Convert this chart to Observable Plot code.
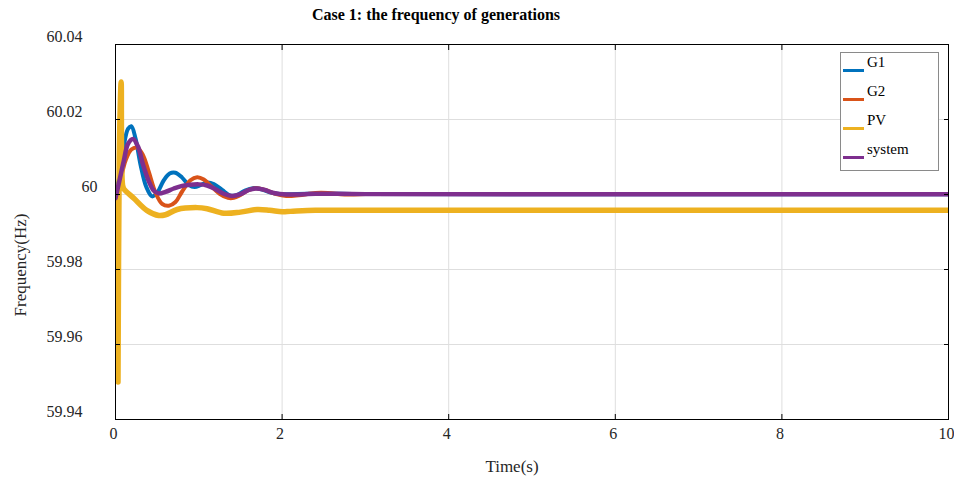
<!DOCTYPE html>
<html><head><meta charset="utf-8">
<script src="https://cdn.jsdelivr.net/npm/d3@7"></script>
<script src="https://cdn.jsdelivr.net/npm/@observablehq/plot@0.6"></script>
<style>
body{margin:0;background:#fff;}
#wrap{position:relative;width:954px;height:479px;font-family:"Liberation Serif","DejaVu Serif",serif;color:#262626;}
#title{position:absolute;left:0;top:6px;width:872px;text-align:center;font-weight:bold;font-size:16px;color:#000;}
#legend{position:absolute;left:840px;top:52px;width:99px;height:119px;border:1px solid #8a8a8a;background:#fff;box-sizing:border-box;}
.row{position:absolute;left:2px;height:20px;}
.sw{position:absolute;left:0;width:21px;height:3px;}
.lt{position:absolute;left:24px;font-size:15px;color:#000;white-space:nowrap;}
</style></head>
<body>
<div id="wrap"><div id="title">Case 1: the frequency of generations</div></div>
<script>
const seriesNames = ["G1", "G2", "PV", "system"];
const seriesColors = ["#0072BD", "#D95319", "#EDB120", "#7E2F8E"];
const seriesWidths = [4, 4, 5.5, 4.5];

const g1T = [0, 0.05, 0.1, 0.15, 0.19, 0.24, 0.3, 0.37, 0.44, 0.5, 0.58, 0.65, 0.72, 0.8, 0.88, 0.95, 1.02, 1.1, 1.18, 1.28, 1.38, 1.45, 1.55, 1.65, 1.75, 1.85, 2.0, 2.3, 2.6, 3.0, 10];
const g1F = [60.0005, 60.005, 60.013, 60.0175, 60.0182, 60.015, 60.008, 60.002, 59.9995, 60.0005, 60.0038, 60.0056, 60.0058, 60.0045, 60.0026, 60.002, 60.0025, 60.0032, 60.0028, 60.0012, 59.9997, 59.9998, 60.001, 60.0017, 60.0014, 60.0006, 60.0001, 60.0002, 60.0002, 60.0001, 60.0001];

const g2T = [0, 0.06, 0.12, 0.19, 0.26, 0.33, 0.4, 0.48, 0.56, 0.64, 0.72, 0.8, 0.9, 0.98, 1.06, 1.15, 1.25, 1.35, 1.42, 1.5, 1.6, 1.7, 1.8, 1.92, 2.05, 2.2, 2.4, 2.55, 2.75, 3.0, 10];
const g2F = [60.0, 60.004, 60.009, 60.012, 60.0125, 60.0105, 60.006, 60.0005, 59.9975, 59.997, 59.998, 60.0008, 60.0038, 60.0046, 60.004, 60.0022, 60.0002, 59.9991, 59.9991, 59.9999, 60.0012, 60.0017, 60.0012, 60.0002, 59.9996, 59.9998, 60.0004, 60.0004, 60.0, 60.0001, 60.0001];

const pvT = [0, 0.02, 0.03, 0.045, 0.068, 0.085, 0.1, 0.22, 0.38, 0.52, 0.6, 0.74, 0.98, 1.1, 1.3, 1.5, 1.7, 1.85, 2.0, 2.1, 2.4, 3.0, 10];
const pvF = [60.0, 59.998, 59.95, 60.01, 60.03, 60.0025, 60.0015, 59.999, 59.9957, 59.9944, 59.9946, 59.996, 59.9965, 59.9962, 59.995, 59.9953, 59.996, 59.9958, 59.9954, 59.9955, 59.9958, 59.9958, 59.9958];

const sysT = [0, 0.05, 0.1, 0.15, 0.21, 0.27, 0.33, 0.4, 0.46, 0.52, 0.6, 0.7, 0.8, 0.9, 1.0, 1.1, 1.2, 1.3, 1.4, 1.5, 1.6, 1.68, 1.78, 1.9, 2.05, 2.4, 2.6, 3.0, 10];
const sysF = [59.999, 60.004, 60.009, 60.0135, 60.0148, 60.0128, 60.008, 60.0035, 60.001, 60.0003, 60.0007, 60.0016, 60.0023, 60.0026, 60.0027, 60.0024, 60.0014, 60.0002, 59.9996, 60.0001, 60.0012, 60.0016, 60.0013, 60.0004, 60.0, 60.0002, 60.0002, 60.0001, 60.0001];

const yTickLabels = [59.94, 59.96, 59.98, 60.02, 60.04];
const yTickZero = [60];
const yTicks = [59.94, 59.96, 59.98, 60, 60.02, 60.04];
const xTicks = [0, 2, 4, 6, 8, 10];

const seriesT = [g1T, g2T, pvT, sysT];
const seriesF = [g1F, g2F, pvF, sysF];
const rows = seriesNames.map((name, i) => seriesT[i].map((t, j) => ({t, f: seriesF[i][j]})));

const grid = "#dedede";
const chart = Plot.plot({
  width: 954, height: 479,
  marginLeft: 115, marginRight: 6, marginTop: 44, marginBottom: 60,
  style: {fontSize: "16px", color: "#262626", background: "#fff"},
  x: {domain: [0, 10]},
  y: {domain: [59.94, 60.04]},
  marks: [
    Plot.gridY(yTicks, {stroke: grid, strokeOpacity: 1}),
    Plot.gridX(xTicks, {stroke: grid, strokeOpacity: 1}),
    ...rows.map((r, i) => Plot.line(r, {x: "t", y: "f", stroke: seriesColors[i], strokeWidth: seriesWidths[i], curve: "catmull-rom", clip: true})),
    Plot.frame({stroke: "#000", strokeWidth: 1}),
    Plot.axisY(yTickLabels, {anchor: "left", tickSize: 0, tickPadding: 33, dy: -8, fontSize: 16, tickFormat: d => d.toFixed(2), label: null}),
    Plot.axisY(yTickZero, {anchor: "left", tickSize: 0, tickPadding: 18, dy: -8, fontSize: 16, tickFormat: d => String(d), label: null}),
    Plot.axisY(yTicks, {anchor: "left", tickSize: -5, tickFormat: () => "", label: null, stroke: "#000"}),
    Plot.axisY(yTicks, {anchor: "right", tickSize: -5, tickFormat: () => "", label: null, stroke: "#000"}),
    Plot.axisX(xTicks, {anchor: "bottom", tickSize: 0, tickPadding: 8, fontSize: 16, dx: -2, label: null}),
    Plot.axisX(xTicks, {anchor: "bottom", tickSize: -5, tickFormat: () => "", label: null, stroke: "#000"}),
    Plot.axisX(xTicks, {anchor: "top", tickSize: -5, tickFormat: () => "", label: null, stroke: "#000"})
  ]
});
const wrap = document.getElementById("wrap");
wrap.insertBefore(chart, wrap.firstChild);
chart.style.position = "absolute"; chart.style.left = "0"; chart.style.top = "0";
chart.style.fontFamily = "'Liberation Serif', serif";

const svg = d3.select(chart);
svg.append("text").attr("transform", "translate(20,265) rotate(-90)").attr("text-anchor", "middle")
  .attr("dy", "0.35em").attr("font-size", 17).attr("fill", "#262626").text("Frequency(Hz)");
svg.append("text").attr("x", 512).attr("y", 466).attr("text-anchor", "middle")
  .attr("dy", "0.35em").attr("font-size", 17).attr("fill", "#262626").text("Time(s)");
svg.selectAll("g, text").attr("font-family", "Liberation Serif").style("font-family", "'Liberation Serif', serif");
svg.selectAll("text").attr("font-variant", null).style("font-variant", "normal");

const legend = document.createElement("div");
legend.id = "legend";
const rowTops = [8, 37, 66, 95];
seriesNames.forEach((name, i) => {
  const row = document.createElement("div");
  row.className = "row"; row.style.top = rowTops[i] + "px";
  row.innerHTML = `<div class="sw" style="top:8px;background:${seriesColors[i]}"></div><div class="lt" style="top:-7px">${name}</div>`;
  legend.appendChild(row);
});
wrap.appendChild(legend);
</script>
</body></html>
